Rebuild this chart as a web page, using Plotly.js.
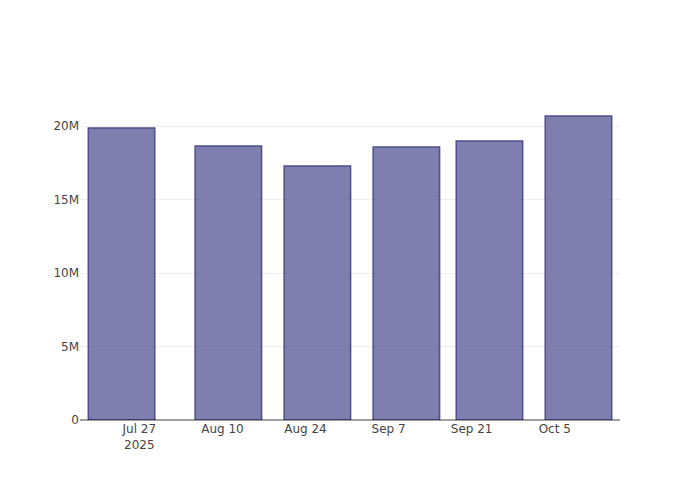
<!DOCTYPE html>
<html>
<head>
<meta charset="utf-8">
<script src="https://cdn.plot.ly/plotly-3.0.1.min.js"></script>
<style>html,body{margin:0;padding:0;background:#fff;}</style>
</head>
<body>
<div id="chart" style="width:700px;height:500px;"></div>
<script>
const dates = ['2025-07-24', '2025-08-11', '2025-08-26', '2025-09-10', '2025-09-24', '2025-10-09'];
const values = [19860000, 18640000, 17280000, 18570000, 18980000, 20680000];

Plotly.newPlot('chart', [{
  type: 'bar',
  x: dates,
  y: values,
  opacity: 0.7,
  marker: {color: 'rgb(72,72,142)', line: {color: 'rgb(5,5,90)', width: 1.5}}
}], {
  width: 700,
  height: 500,
  font: {family: 'DejaVu Sans', size: 12, color: '#444'},
  paper_bgcolor: '#fff',
  plot_bgcolor: '#fff',
  xaxis: {type: 'date', range: ['2025-07-17', '2025-10-16']},
  yaxis: {zerolinecolor: '#a0a0a0', zerolinewidth: 2}
}, {displayModeBar: false});
</script>
</body>
</html>
